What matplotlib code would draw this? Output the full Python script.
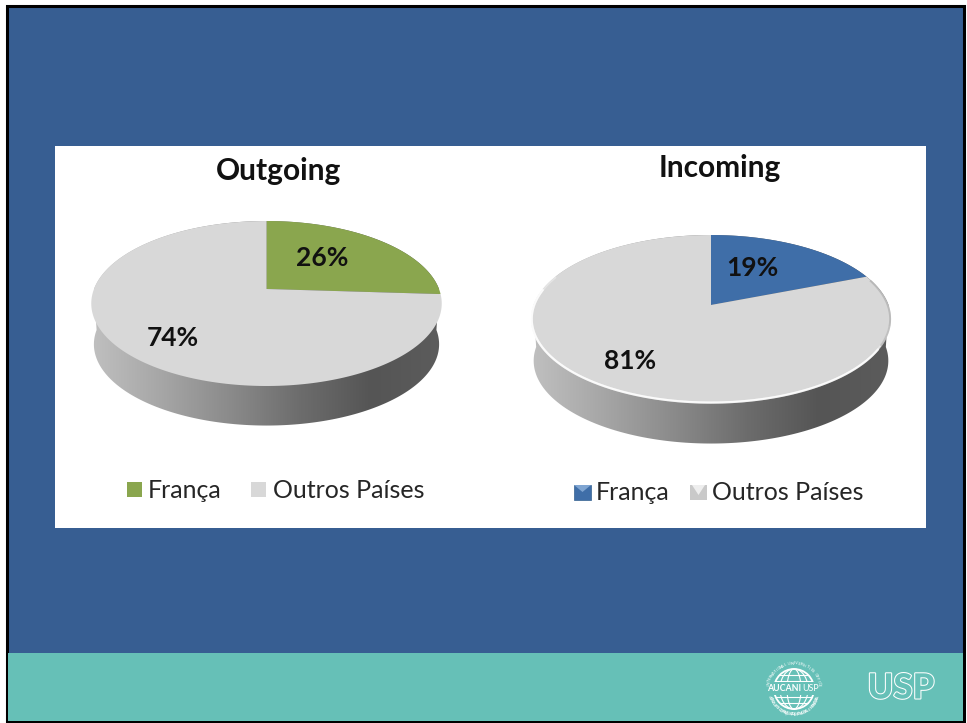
import numpy as np
import matplotlib
matplotlib.use('Agg')
import matplotlib.pyplot as plt
import matplotlib.patheffects as pe
from matplotlib.colors import LinearSegmentedColormap
from matplotlib.patches import Circle, Rectangle, Polygon

plt.rcParams['font.family'] = ['Lato', 'DejaVu Sans']

# data
categories = ['França', 'Outros Países']
outgoing_values = [26, 74]
incoming_values = [19, 81]
outgoing_labels = ['26%', '74%']
incoming_labels = ['19%', '81%']
seal_top = 'INTERNATIONAL UNIVERSITIES OFFICE'
seal_bottom = 'AGÊNCIA USP DE COOPERAÇÃO ACADÊMICA NACIONAL E INTERNACIONAL'

BLUE = '#375e92'
TEAL = '#66c0b7'
GREY = '#d8d8d8'

fig = plt.figure(figsize=(9.67, 7.23), dpi=100, facecolor='white')
ax = fig.add_axes([0, 0, 1, 1])
ax.set_xlim(0, 967)
ax.set_ylim(723, 0)
ax.axis('off')

wall_cmap = LinearSegmentedColormap.from_list(
    'wall', ['#c0c0c0', '#a6a6a6', '#8a8a8a', '#6c6c6c', '#555555', '#5c5c5c'])


def project(theta, cx, vy, rx, back, front, scale=1.0, shift=0.0):
    """Unit circle angle (clockwise from 12 o'clock) to tilted pie pixels"""
    k = (back - front) / (back + front)
    a = front * (1 + k)
    u, v = np.sin(theta), -np.cos(theta)
    den = 1 + k * v
    return cx + scale * rx * u / den, vy + shift + scale * a * v / den


def pie_3d(values, colors, cx, vy, rx, back, front, depth, rim=False):
    full = np.linspace(0, 2 * np.pi, 361)
    tx, ty = project(full, cx, vy, rx, back, front)
    bx, by = project(full, cx, vy, rx, back, front, scale=0.985, shift=depth)

    # wall: back half of top outline + front half of lower outline
    back_part = np.r_[270:361, 0:91]
    front_part = np.arange(90, 271)
    clip = Polygon(np.c_[np.r_[tx[back_part], bx[front_part]],
                         np.r_[ty[back_part], by[front_part]]],
                   closed=True, transform=ax.transData, fc='none', ec='none')
    ax.add_patch(clip)
    grad = np.linspace(0, 1, 256).reshape(1, -1)
    im = ax.imshow(grad, cmap=wall_cmap, aspect='auto', zorder=2,
                   extent=[tx.min(), tx.max(), by.max() + 2, ty.min()])
    im.set_clip_path(clip)

    # top, one slice per value
    edges = np.cumsum([0] + list(values)) / sum(values) * 2 * np.pi
    for i, color in enumerate(colors):
        theta = np.linspace(edges[i], edges[i + 1], 200)
        px, py = project(theta, cx, vy, rx, back, front)
        ax.fill(np.r_[cx, px], np.r_[vy, py], color=color, lw=0, zorder=3)

    if rim:
        # soft white bevel along the front-left edge, fading out at both ends
        for start, stop, alpha in [(120, 282, 0.85), (105, 292, 0.35)]:
            arc = np.arange(start, stop)
            ex, ey = project(full[arc], cx, vy, rx, back, front, scale=0.996)
            ax.plot(ex, ey, color='white', lw=1.6, alpha=alpha, zorder=4,
                    solid_capstyle='round')
        # darker bevel on the right side
        arc = np.arange(72, 118)
        ex, ey = project(full[arc], cx, vy, rx, back, front, scale=0.995)
        ax.plot(ex, ey, color='#a8a8a8', lw=1.4, alpha=0.6, zorder=4)
    ax.set_xlim(0, 967)
    ax.set_ylim(723, 0)


def ring_text(txt, cx, cy, r, start, stop, bottom=False):
    """Letters one by one around the seal, start/stop in degrees from 12 o'clock"""
    angles = np.linspace(start, stop, len(txt))
    for ch, deg in zip(txt, angles):
        a = np.radians(deg)
        rot = 180 - deg if bottom else -deg
        ax.text(cx + r * np.sin(a), cy - r * np.cos(a), ch, fontsize=3.0, color='white',
                rotation=rot, ha='center', va='center', zorder=7.5)


# slide background
ax.add_patch(Rectangle((0, 0), 967, 723, fc='white', ec='none', zorder=0))
ax.add_patch(Rectangle((7, 6), 957, 716, fc=BLUE, ec='black', lw=2.2, zorder=0.5))
ax.add_patch(Rectangle((8, 653), 955, 68, fc=TEAL, ec='none', zorder=0.6))
ax.add_patch(Rectangle((55, 146), 871, 382, fc='white', ec='none', zorder=1))

pie_3d(outgoing_values, ['#8aa64e', GREY], 266.5, 289, 172.5, 68, 97, 41)
pie_3d(incoming_values, ['#3f6ea8', GREY], 711, 305, 177.5, 70, 98, 42, rim=True)

# titles
ax.text(279, 171, 'Outgoing', fontsize=21.5, fontweight='bold', color='#111111',
        ha='center', va='center', zorder=6)
ax.text(720, 168, 'Incoming', fontsize=21.5, fontweight='bold', color='#111111',
        ha='center', va='center', zorder=6)

# slice labels
for txt, x, y in zip(outgoing_labels + incoming_labels,
                     [322.5, 173, 752, 630.5], [258, 338, 268, 361]):
    ax.text(x, y, txt, fontsize=19, fontweight='bold', color='#111111',
            ha='center', va='center', zorder=6)

# legends
ax.add_patch(Rectangle((127, 482), 15, 15, fc='#8aa64e', ec='none', zorder=6))
ax.add_patch(Rectangle((251, 482), 15, 15, fc=GREY, ec='none', zorder=6))
ax.text(148, 490, categories[0], fontsize=18, color='#262626', va='center', zorder=6)
ax.text(273, 490, categories[1], fontsize=18, color='#262626', va='center', zorder=6)

ax.add_patch(Rectangle((574, 485), 17, 15, fc='#3f6ea8', ec='#34608f', lw=0.5, zorder=6))
ax.add_patch(Polygon([(574, 485), (591, 485), (582.5, 492)], fc='#7fa5d2', ec='none', zorder=6.1))
ax.add_patch(Rectangle((690, 485), 17, 15, fc='#c9c9c9', ec='none', zorder=6))
ax.add_patch(Polygon([(692, 485), (705, 485), (698.5, 495)], fc='#eeeeee', ec='none', zorder=6.1))
ax.text(596, 493, categories[0], fontsize=18, color='#262626', va='center', zorder=6)
ax.text(712, 493, categories[1], fontsize=18, color='#262626', va='center', zorder=6)

# AUCANI seal
lx, ly = 794, 689
ax.add_patch(Circle((lx, ly), 20, fc='none', ec='white', lw=1.3, zorder=7))
for w in [7, 14]:
    ell = np.linspace(0, 2 * np.pi, 80)
    ax.plot(lx + w * np.sin(ell), ly + 20 * np.cos(ell), color='white', lw=0.8, zorder=7)
for dy in [-14, -8, 8, 14]:
    half = np.sqrt(400 - dy ** 2)
    ax.plot([lx - half, lx + half], [ly + dy, ly + dy], color='white', lw=0.8, zorder=7)
ax.add_patch(Rectangle((lx - 24, ly - 7), 48, 13, fc=TEAL, ec='none', zorder=7.2))
ax.text(lx + 7, ly - 0.5, 'AUCANI', fontsize=6.4, fontweight='bold', color='white',
        ha='right', va='center', zorder=7.5)
ax.text(lx + 8.5, ly - 0.5, 'USP', fontsize=6.4, color='white', ha='left', va='center', zorder=7.5)
ring_text(seal_top, lx, ly, 25.5, -82, 82)
ring_text(seal_bottom, lx, ly, 25.5, 252, 108, bottom=True)

# USP logo, outlined letters
ax.text(901, 688.5, 'USP', fontsize=25, fontweight=900, color=TEAL, ha='center', va='center',
        zorder=7, path_effects=[pe.withStroke(linewidth=1.5, foreground='white')])

fig.savefig('out.png', dpi=100)
